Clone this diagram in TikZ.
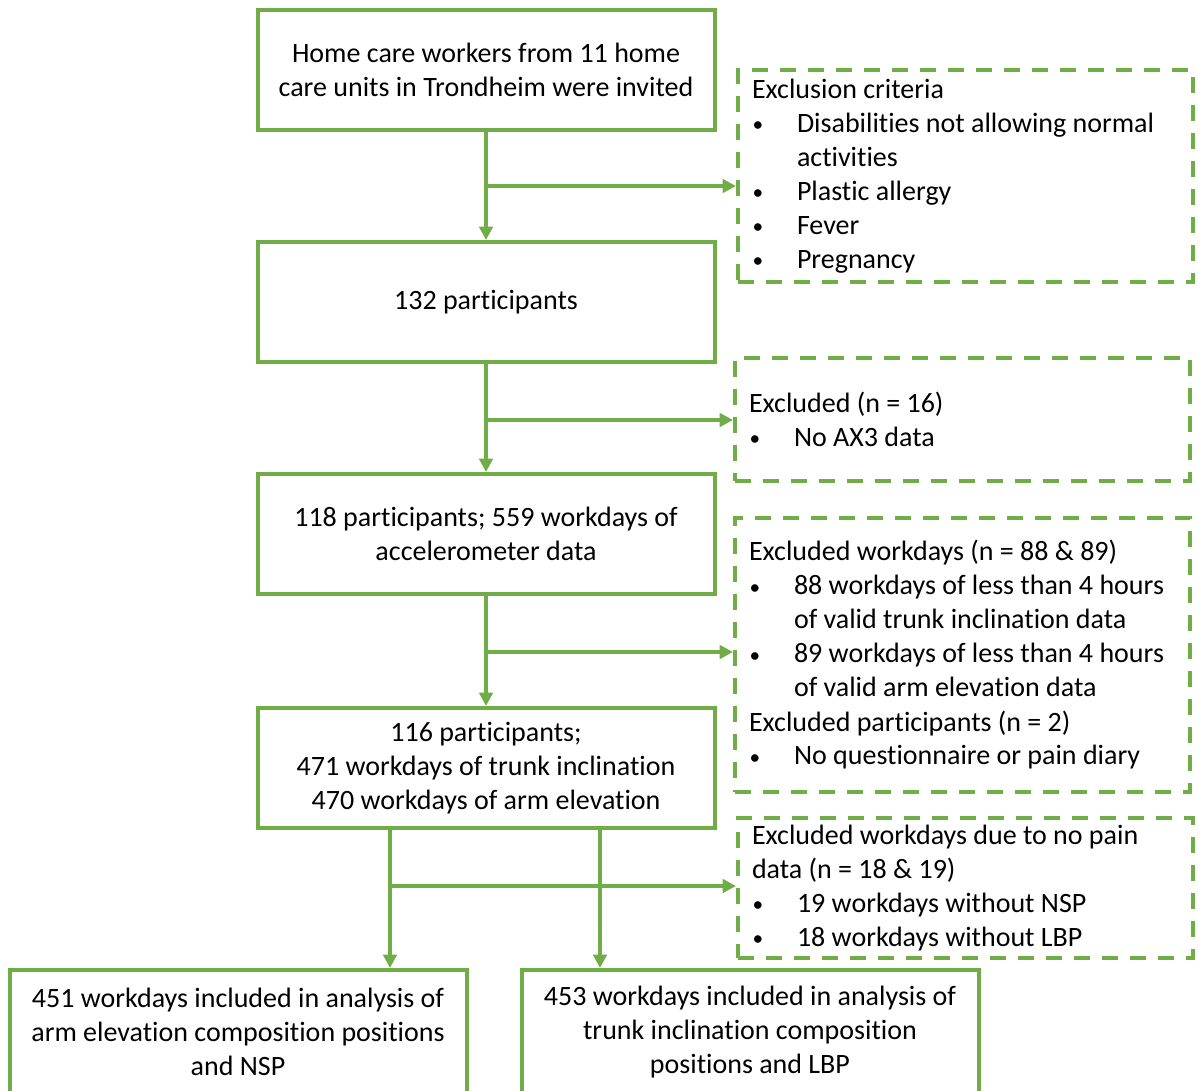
\documentclass[tikz,border=0pt]{standalone}
\usepackage{fontspec}
\setmainfont{Carlito}[Ligatures=NoCommon]
\usetikzlibrary{arrows.meta}
\definecolor{flowgreen}{RGB}{112,173,71}
\newcommand{\bul}{\makebox[33.75pt][l]{\hspace{0.5pt}\raisebox{0.5pt}{\fontsize{16}{16}\selectfont\textbullet}}}
\newcommand{\ind}{\hspace*{33.75pt}}

\begin{document}
\begin{tikzpicture}[x=0.75pt,y={(0pt,-0.75pt)},
  flowbox/.style={draw=flowgreen,line width=3pt,inner sep=0pt,minimum width=342.75pt,minimum height=90pt,align=center,font=\fontsize{21}{25.5}\selectfont},
  exbox/.style={draw=flowgreen,line width=3pt,dash pattern=on 12pt off 9pt,inner sep=0pt,minimum width=341.25pt,text width=320.25pt,align=flush left,font=\fontsize{21}{25.5}\selectfont},
  arr/.style={draw=flowgreen,line width=3pt,-{Triangle[length=10pt,width=10pt]}}]
\path[use as bounding box,fill=white] (0,0) rectangle (1198,1090);
\node[flowbox] (inv) at (486,70) {Home care workers from 11 home\\care units in Trondheim were invited};
\node[flowbox] (p132) at (486,302) {132 participants};
\node[flowbox] (p118) at (486,534) {118 participants; 559 workdays of\\accelerometer data};
\node[flowbox] (p116) at (486,768) {116 participants;\\471 workdays of trunk inclination\\470 workdays of arm elevation};
\node[flowbox,minimum height=93pt] (armnsp) at (238,1032) {451 workdays included in analysis of\\arm elevation composition positions\\and NSP};
\node[flowbox,minimum height=93pt] (trunklbp) at (750,1032) {453 workdays included in analysis of\\trunk inclination composition\\positions and LBP};
\node[exbox,minimum height=159pt] (excrit) at (965.5,176) {Exclusion criteria\\\bul Disabilities not allowing normal\\\ind activities\\\bul Plastic allergy\\\bul Fever\\\bul Pregnancy};
\node[exbox,minimum height=92.25pt] (exax) at (962.5,419.5) {Excluded (n = 16)\\\bul No AX3 data};
\node[exbox,minimum height=205.5pt] (exdays) at (962.5,655) {Excluded workdays (n = 88 \& 89)\\\bul 88 workdays of less than 4 hours\\\ind of valid trunk inclination data\\\bul 89 workdays of less than 4 hours\\\ind of valid arm elevation data\\Excluded participants (n = 2)\\\bul No questionnaire or pain diary};
\node[exbox,minimum height=105pt] (expain) at (965.5,888) {Excluded workdays due to no pain\\data (n = 18 \& 19)\\\bul 19 workdays without NSP\\\bul 18 workdays without LBP};
\coordinate (b1) at (486,186);
\coordinate (b2) at (486,420);
\coordinate (b3) at (486,652);
\coordinate (b4) at (390,886);
\coordinate (s1) at (390,828);
\coordinate (s2) at (600,828);
\draw[arr] (inv) -- (p132);
\draw[arr] (b1) -- (b1 -| excrit.west);
\draw[arr] (p132) -- (p118);
\draw[arr] (b2) -- (b2 -| exax.west);
\draw[arr] (p118) -- (p116);
\draw[arr] (b3) -- (b3 -| exdays.west);
\draw[arr] (s1) -- (s1 |- armnsp.north);
\draw[arr] (s2) -- (s2 |- trunklbp.north);
\draw[arr] (b4) -- (b4 -| expain.west);
\end{tikzpicture}
\end{document}
